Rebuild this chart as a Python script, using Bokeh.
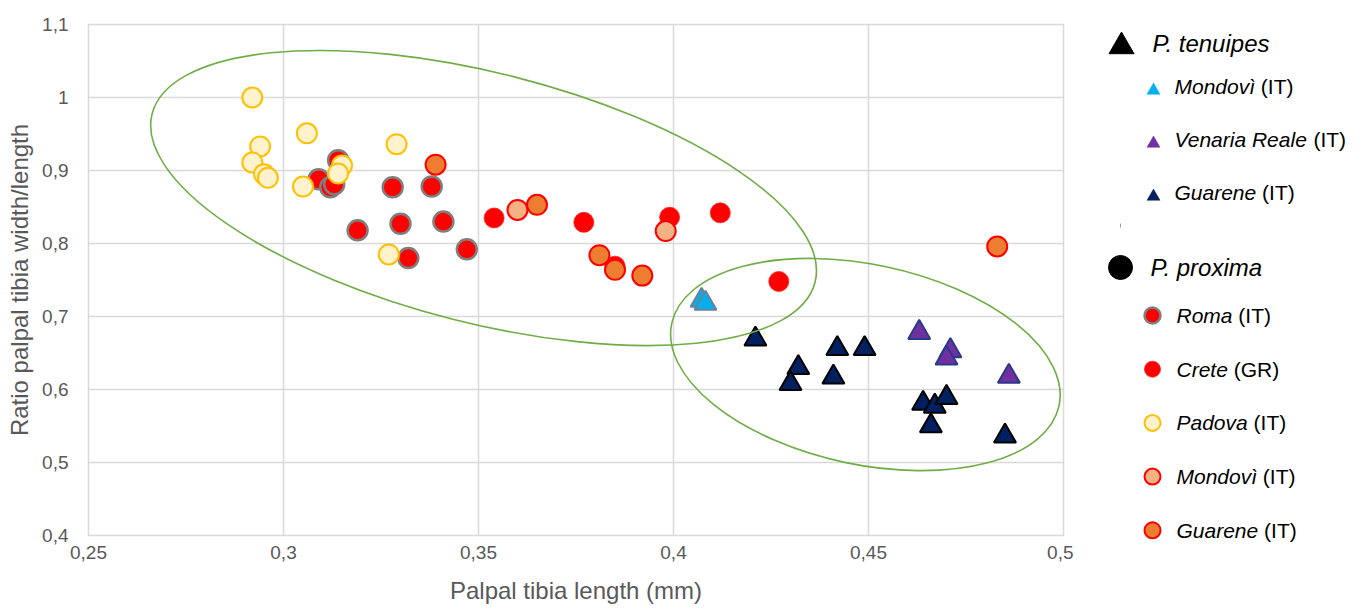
import numpy as np
from bokeh.plotting import figure
from bokeh.layouts import row, column
from bokeh.models import Range1d, FixedTicker
from bokeh.core.properties import value
from bokeh.embed import file_html
from bokeh.resources import INLINE

# ---------------- data ----------------
# P. proxima (circles)
roma_x = [0.309, 0.312, 0.314, 0.313, 0.328, 0.338, 0.319, 0.330, 0.341, 0.347, 0.332]
roma_y = [0.888, 0.877, 0.914, 0.881, 0.877, 0.878, 0.818, 0.827, 0.830, 0.792, 0.780]

crete_x = [0.354, 0.377, 0.385, 0.399, 0.412, 0.427]
crete_y = [0.835, 0.829, 0.769, 0.836, 0.842, 0.748]

padova_x = [0.292, 0.294, 0.292, 0.295, 0.296, 0.306, 0.305, 0.329, 0.315, 0.314, 0.327]
padova_y = [1.000, 0.933, 0.911, 0.895, 0.890, 0.951, 0.878, 0.936, 0.907, 0.896, 0.785]

mondovi_c_x = [0.360, 0.398]
mondovi_c_y = [0.846, 0.817]

guarene_c_x = [0.339, 0.365, 0.381, 0.385, 0.392, 0.483]
guarene_c_y = [0.908, 0.853, 0.784, 0.764, 0.756, 0.796]

# P. tenuipes (triangles)
mondovi_t_x = [0.4072, 0.4082]
mondovi_t_y = [0.722, 0.718]

venaria_x = [0.463, 0.471, 0.470, 0.486]
venaria_y = [0.678, 0.653, 0.643, 0.618]

guarene_t_x = [0.421, 0.442, 0.449, 0.432, 0.430, 0.441, 0.464, 0.467, 0.470, 0.466, 0.485]
guarene_t_y = [0.669, 0.656, 0.656, 0.630, 0.608, 0.617, 0.581, 0.577, 0.589, 0.550, 0.536]

# ellipses (centre in data units, size in screen px, angle in degrees)
ell_x = [0.3513, 0.4492]
ell_y = [0.8623, 0.6342]
ell_w = [684, 396]
ell_h = [250, 200]
ell_angle = [-14.25, -12.0]

x_ticks = [0.25, 0.3, 0.35, 0.4, 0.45, 0.5]
x_tick_labels = ["0,25", "0,3", "0,35", "0,4", "0,45", "0,5"]
y_ticks = [0.4, 0.5, 0.6, 0.7, 0.8, 0.9, 1.0, 1.1]
y_tick_labels = ["0,4", "0,5", "0,6", "0,7", "0,8", "0,9", "1", "1,1"]

x_title = "Palpal tibia length (mm)"
y_title = "Ratio palpal tibia width/length"

ten_title = "P. tenuipes"
ten_labels = ["Mondovì", "Venaria Reale", "Guarene"]
ten_suffix = ["(IT)", "(IT)", "(IT)"]
ten_fill = ["#00B0F0", "#7030A0", "#002060"]

pro_title = "P. proxima"
pro_labels = ["Roma", "Crete", "Padova", "Mondovì", "Guarene"]
pro_suffix = ["(IT)", "(GR)", "(IT)", "(IT)", "(IT)"]
pro_fill = ["#FF0000", "#FF0000", "#FFF2CC", "#F4B183", "#ED7D31"]
pro_line = ["#7F7F7F", "#FF2020", "#FFC000", "#FF0000", "#FF0000"]
pro_lw = [2.5, 0.8, 2.0, 2.0, 2.0]

FONT = "Liberation Sans"
GREY = "#595959"
GRID = "#D9D9D9"

# ---------------- main plot ----------------
PW, PH = 1073, 609
p = figure(width=PW, height=PH, x_range=Range1d(0.25, 0.5), y_range=Range1d(0.4, 1.1),
           output_backend="svg", toolbar_location=None,
           min_border_left=88, min_border_right=10, min_border_top=24, min_border_bottom=74)
p.background_fill_color = "white"
p.border_fill_color = "white"
p.outline_line_color = GRID
p.outline_line_width = 1.5

p.xaxis.ticker = FixedTicker(ticks=x_ticks)
p.yaxis.ticker = FixedTicker(ticks=y_ticks)
p.xaxis.major_label_overrides = {t: l for t, l in zip(x_ticks, x_tick_labels)}
p.yaxis.major_label_overrides = {t: l for t, l in zip(y_ticks, y_tick_labels)}
for ax in (p.xaxis, p.yaxis):
    ax.axis_line_color = None
    ax.major_tick_line_color = None
    ax.minor_tick_line_color = None
    ax.major_tick_out = 0
    ax.major_tick_in = 0
    ax.major_label_text_font = FONT
    ax.major_label_text_font_size = "19px"
    ax.major_label_text_color = GREY
    ax.axis_label_text_font = FONT
    ax.axis_label_text_font_style = "normal"
    ax.axis_label_text_color = GREY
p.xaxis.axis_label = x_title
p.yaxis.axis_label = y_title
p.xaxis.axis_label_text_font_size = "24px"
p.yaxis.axis_label_text_font_size = "24px"
p.xaxis.major_label_standoff = 10
p.xaxis.axis_label_standoff = 15
p.yaxis.major_label_standoff = 20
p.yaxis.axis_label_standoff = 6

p.xgrid.grid_line_color = GRID
p.ygrid.grid_line_color = GRID
p.xgrid.grid_line_width = 1.5
p.ygrid.grid_line_width = 1.5

CS = 20
p.scatter(roma_x, roma_y, marker="circle", size=CS, fill_color="#FF0000", line_color="#7F7F7F", line_width=2.5)
p.scatter(crete_x, crete_y, marker="circle", size=CS, fill_color="#FF0000", line_color="#FF2020", line_width=0.8)
p.scatter(padova_x, padova_y, marker="circle", size=CS, fill_color="#FFF2CC", line_color="#FFC000", line_width=2)
p.scatter(mondovi_c_x, mondovi_c_y, marker="circle", size=CS, fill_color="#F4B183", line_color="#FF0000", line_width=2)
p.scatter(guarene_c_x, guarene_c_y, marker="circle", size=CS, fill_color="#ED7D31", line_color="#FF0000", line_width=2)

TS = 22
p.scatter(mondovi_t_x, mondovi_t_y, marker="triangle", size=TS, fill_color="#00B0F0", line_color="#6D8296", line_width=2)
p.scatter(venaria_x, venaria_y, marker="triangle", size=TS, fill_color="#7030A0", line_color="#2A3A8A", line_width=2)
p.scatter(guarene_t_x, guarene_t_y, marker="triangle", size=TS, fill_color="#002060", line_color="#000000", line_width=2)

p.ellipse(x=ell_x, y=ell_y, width=ell_w, height=ell_h, angle=list(np.radians(ell_angle)),
          width_units="screen", height_units="screen",
          fill_color=None, line_color="#70AD47", line_width=1.6)

# ---------------- legend panel (coordinates = page pixels) ----------------
LW = 290
lg = figure(width=LW, height=PH, x_range=Range1d(PW, PW + LW), y_range=Range1d(PH, 0),
            output_backend="svg", toolbar_location=None, min_border=0,
            x_axis_type=None, y_axis_type=None)
lg.grid.visible = False
lg.outline_line_color = None
lg.background_fill_color = "white"
lg.border_fill_color = "white"

# Arial / Liberation Sans advance widths (per 1000 em)
W = {"M": 833, "o": 556, "n": 556, "d": 556, "v": 500, "ì": 278, "V": 667, "e": 556, "a": 556,
     "r": 333, "i": 222, " ": 278, "R": 722, "l": 222, "G": 778, "u": 556, "m": 833, "C": 722,
     "t": 278, "P": 667, "g": 556, "s": 500, "p": 556}


def tw(s, size):
    return sum(W.get(c, 556) for c in s) * size / 1000.0


ITEM_FS = 21
TITLE_FS = 24

# P. tenuipes header
lg.scatter([1121], [46], marker="triangle", size=25, fill_color="black", line_color="black")
lg.text([1152], [43], text=[ten_title], text_font=value(FONT), text_font_style="italic",
        text_font_size=f"{TITLE_FS}px", text_baseline="middle", text_align="left", text_color="black")

ten_y = [86 + 53 * i for i in range(len(ten_labels))]
lg.scatter([1153] * len(ten_y), [y + 4 for y in ten_y], marker="triangle", size=13,
           fill_color=ten_fill, line_color=ten_fill, line_width=0.5)
lab_x = 1174
lg.text([lab_x] * len(ten_y), ten_y, text=ten_labels, text_font=value(FONT), text_font_style="italic",
        text_font_size=f"{ITEM_FS}px", text_baseline="middle", text_align="left", text_color="black")
lg.text([lab_x + tw(l + " ", ITEM_FS) for l in ten_labels], ten_y, text=ten_suffix, text_font=value(FONT),
        text_font_size=f"{ITEM_FS}px", text_baseline="middle", text_align="left", text_color="black")

# small grey speck between the two groups
lg.segment([1120], [223], [1120], [227], line_color="#9A9A9A", line_width=1)

# P. proxima header
lg.scatter([1120], [267], marker="circle", size=24, fill_color="black", line_color="black")
lg.text([1150], [267], text=[pro_title], text_font=value(FONT), text_font_style="italic",
        text_font_size=f"{TITLE_FS}px", text_baseline="middle", text_align="left", text_color="black")

pro_y = [315 + 53.7 * i for i in range(len(pro_labels))]
lg.scatter([1152] * len(pro_y), pro_y, marker="circle", size=16,
           fill_color=pro_fill, line_color=pro_line, line_width=pro_lw)
lab_x2 = 1176
lg.text([lab_x2] * len(pro_y), pro_y, text=pro_labels, text_font=value(FONT), text_font_style="italic",
        text_font_size=f"{ITEM_FS}px", text_baseline="middle", text_align="left", text_color="black")
lg.text([lab_x2 + tw(l + " ", ITEM_FS) for l in pro_labels], pro_y, text=pro_suffix, text_font=value(FONT),
        text_font_size=f"{ITEM_FS}px", text_baseline="middle", text_align="left", text_color="black")

layout = row(p, column(lg))
open("out.html", "w").write(file_html(layout, INLINE))
